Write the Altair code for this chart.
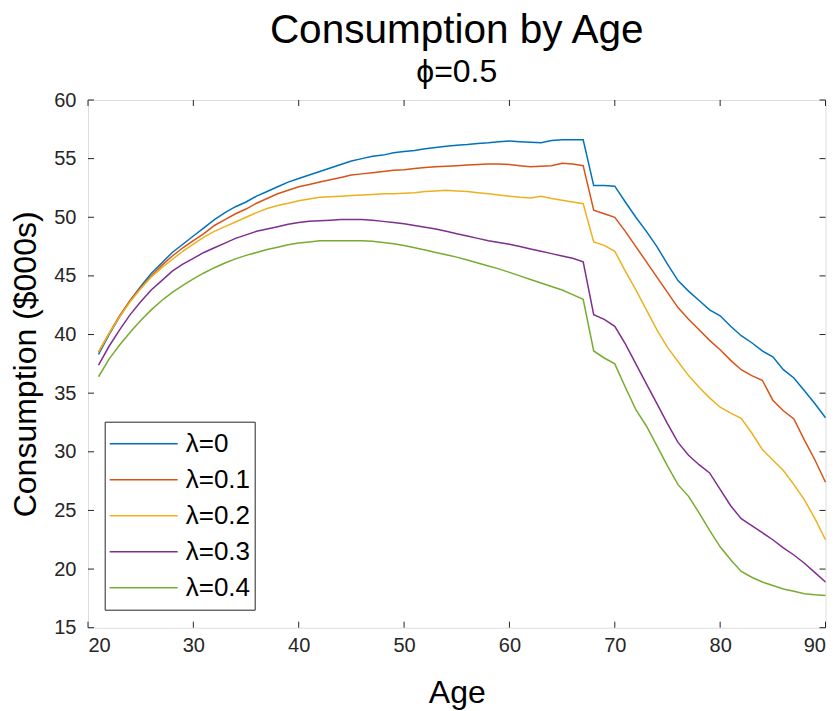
import altair as alt
import pandas as pd

ages = list(range(21, 91))

series_labels = ["λ=0", "λ=0.1", "λ=0.2", "λ=0.3", "λ=0.4"]
series_colors = ["#0072BD", "#D95319", "#EDB120", "#7E2F8E", "#77AC30"]

lam0 = [38.3, 40.0, 41.5, 42.9, 44.1, 45.2, 46.1, 47.0, 47.7, 48.4,
        49.1, 49.8, 50.4, 50.9, 51.3, 51.8, 52.2, 52.6, 53.0, 53.3,
        53.6, 53.9, 54.2, 54.5, 54.8, 55.0, 55.2, 55.3, 55.5, 55.6,
        55.7, 55.85, 55.95, 56.05, 56.15, 56.2, 56.3, 56.35, 56.45, 56.5,
        56.45, 56.4, 56.35, 56.55, 56.6, 56.6, 56.6, 52.7, 52.7, 52.65,
        51.3, 50.0, 48.8, 47.5, 46.0, 44.6, 43.7, 42.9, 42.1, 41.6,
        40.7, 39.9, 39.3, 38.6, 38.1, 37.0, 36.3, 35.2, 34.1, 32.9]

lam1 = [38.5, 40.1, 41.6, 42.9, 44.0, 45.0, 45.9, 46.7, 47.4, 48.0,
        48.6, 49.3, 49.8, 50.3, 50.7, 51.2, 51.6, 52.0, 52.3, 52.6,
        52.8, 53.0, 53.2, 53.4, 53.6, 53.7, 53.8, 53.9, 54.0, 54.05,
        54.15, 54.25, 54.3, 54.35, 54.4, 54.45, 54.5, 54.55, 54.55, 54.5,
        54.4, 54.3, 54.35, 54.4, 54.6, 54.55, 54.4, 50.6, 50.3, 50.0,
        48.8, 47.5, 46.2, 44.9, 43.6, 42.3, 41.3, 40.4, 39.5, 38.7,
        37.8, 37.0, 36.5, 36.1, 34.4, 33.5, 32.8, 31.0, 29.3, 27.4]

lam2 = [38.5, 40.1, 41.5, 42.8, 43.9, 44.9, 45.7, 46.4, 47.1, 47.7,
        48.3, 48.8, 49.2, 49.6, 50.0, 50.4, 50.75, 51.0, 51.2, 51.4,
        51.55, 51.7, 51.75, 51.8, 51.85, 51.9, 51.95, 52.0, 52.0, 52.05,
        52.1, 52.2, 52.25, 52.3, 52.25, 52.2, 52.1, 52.0, 51.9, 51.8,
        51.7, 51.65, 51.8, 51.6, 51.45, 51.3, 51.15, 47.9, 47.6, 47.1,
        45.4, 43.8, 42.1, 40.4, 38.9, 37.7, 36.5, 35.5, 34.6, 33.8,
        33.3, 32.85, 31.6, 30.2, 29.3, 28.4, 27.2, 25.9, 24.3, 22.5]

lam3 = [37.4, 39.0, 40.4, 41.7, 42.8, 43.8, 44.6, 45.4, 46.0, 46.5,
        47.0, 47.4, 47.8, 48.2, 48.5, 48.8, 49.0, 49.2, 49.4, 49.55,
        49.65, 49.7, 49.75, 49.8, 49.8, 49.8, 49.75, 49.65, 49.55, 49.45,
        49.3, 49.15, 49.0, 48.8, 48.6, 48.4, 48.2, 48.0, 47.85, 47.7,
        47.5, 47.3, 47.1, 46.9, 46.7, 46.5, 46.2, 41.7, 41.3, 40.7,
        39.2, 37.5, 35.8, 34.1, 32.4, 30.8, 29.7, 28.9, 28.2, 26.8,
        25.4, 24.3, 23.7, 23.1, 22.5, 21.8, 21.2, 20.5, 19.7, 18.9]

lam4 = [36.4, 37.9, 39.1, 40.2, 41.2, 42.1, 42.9, 43.6, 44.2, 44.75,
        45.25, 45.7, 46.1, 46.45, 46.75, 47.0, 47.25, 47.45, 47.65, 47.8,
        47.9, 48.0, 48.0, 48.0, 48.0, 48.0, 47.95, 47.85, 47.75, 47.6,
        47.4, 47.2, 47.0, 46.8, 46.6, 46.35, 46.1, 45.85, 45.6, 45.3,
        45.0, 44.7, 44.4, 44.1, 43.8, 43.4, 43.0, 38.6, 38.0, 37.5,
        35.5, 33.6, 32.2, 30.5, 28.8, 27.2, 26.2, 24.8, 23.3, 21.9,
        20.8, 19.8, 19.3, 18.9, 18.6, 18.3, 18.1, 17.9, 17.8, 17.75]

x_ticks = [20, 30, 40, 50, 60, 70, 80, 90]
y_ticks = [15, 20, 25, 30, 35, 40, 45, 50, 55, 60]

FONT = "Liberation Sans"
AXC = "#262626"
W = 737.5
H = 527.7
TL = 6

rows = []
for lab, vals in zip(series_labels, [lam0, lam1, lam2, lam3, lam4]):
    for a, v in zip(ages, vals):
        rows.append({"age": a, "cons": v, "series": lab})
df = pd.DataFrame(rows)

xscale = alt.Scale(domain=[20, 90], nice=False, zero=False)
yscale = alt.Scale(domain=[15, 60], nice=False, zero=False)

lines = alt.Chart(df).mark_line(strokeWidth=1.5).encode(
    x=alt.X("age:Q", scale=xscale,
            axis=alt.Axis(values=x_ticks, title="Age", ticks=False, domain=False, grid=False,
                          labelFontSize=20, labelFont=FONT, labelColor=AXC, labelPadding=8,
                          titleFontSize=32, titleFont=FONT, titleColor="#000000",
                          titleFontWeight="normal", titleY=74.3, titleBaseline="alphabetic")),
    y=alt.Y("cons:Q", scale=yscale,
            axis=alt.Axis(values=y_ticks, title="Consumption ($000s)", ticks=False, domain=False,
                          grid=False, labelFontSize=20, labelFont=FONT, labelColor=AXC,
                          labelPadding=12, titleFontSize=32, titleFont=FONT, titleColor="#000000",
                          titleFontWeight="normal", titleAngle=270, titleX=-53, titleY=H / 2,
                          titleAlign="center", titleBaseline="alphabetic")),
    color=alt.Color("series:N",
                    scale=alt.Scale(domain=series_labels, range=series_colors),
                    sort=series_labels,
                    legend=alt.Legend(title=None, orient="none", legendX=16.7, legendY=321.7,
                                      symbolType="stroke", symbolSize=4624, symbolStrokeWidth=1.5,
                                      labelFontSize=26, labelFont=FONT, labelColor="#000000",
                                      labelOffset=7, clipHeight=36, rowPadding=0,
                                      padding=4, strokeColor=AXC, fillColor="#ffffff",
                                      cornerRadius=0)),
)

xt = pd.DataFrame({"t": x_ticks})
yt = pd.DataFrame({"t": y_ticks})

bottom_ticks = alt.Chart(xt).mark_rule(color=AXC, strokeWidth=1).encode(
    x=alt.X("t:Q", scale=xscale), y=alt.value(H), y2=alt.value(H - TL))
top_ticks = alt.Chart(xt).mark_rule(color=AXC, strokeWidth=1).encode(
    x=alt.X("t:Q", scale=xscale), y=alt.value(0), y2=alt.value(TL))
left_ticks = alt.Chart(yt).mark_rule(color=AXC, strokeWidth=1).encode(
    y=alt.Y("t:Q", scale=yscale), x=alt.value(0), x2=alt.value(TL))
right_ticks = alt.Chart(yt).mark_rule(color=AXC, strokeWidth=1).encode(
    y=alt.Y("t:Q", scale=yscale), x=alt.value(W), x2=alt.value(W - TL))

chart = alt.layer(lines, bottom_ticks, top_ticks, left_ticks, right_ticks).properties(
    width=W, height=H,
    title=alt.TitleParams(text="Consumption by Age", subtitle="ϕ=0.5", anchor="middle",
                          fontSize=40.5, font=FONT, fontWeight="normal", color="#000000",
                          subtitleFontSize=32, subtitleFont=FONT, subtitleColor="#000000",
                          subtitlePadding=6, offset=2),
    autosize=alt.AutoSizeParams(type="none"),
    padding={"left": 88, "top": 100, "right": 14.5, "bottom": 83.3},
).configure_view(stroke=AXC, strokeWidth=1).configure(background="#ffffff")

chart.save("out.html", embed_options={"renderer": "svg", "actions": False})
